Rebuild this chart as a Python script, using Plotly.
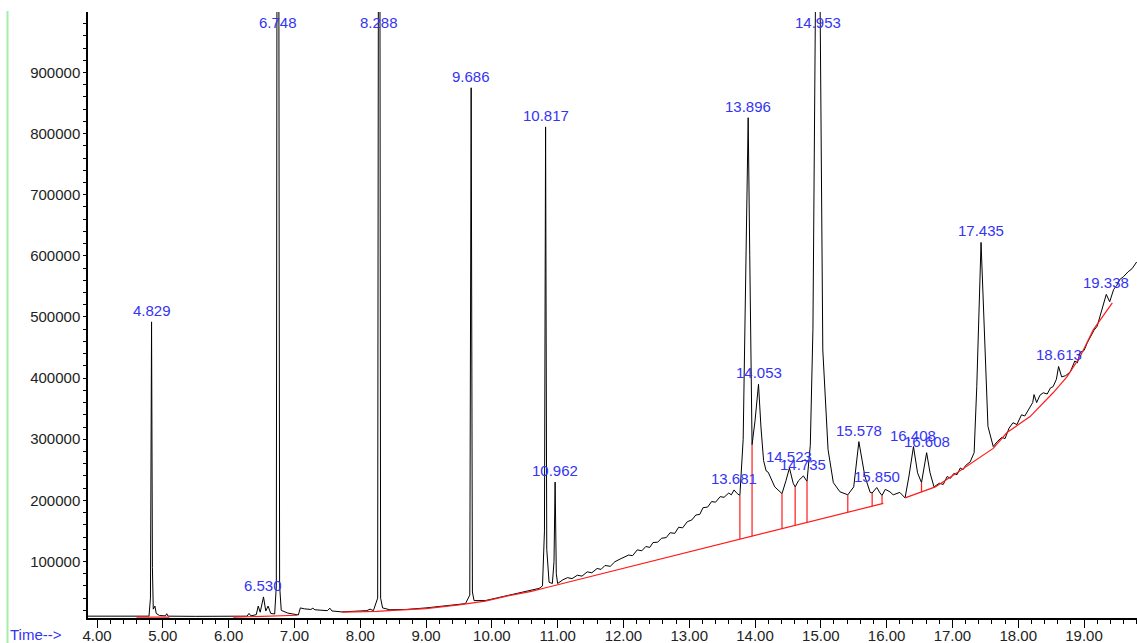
import numpy as np
import plotly.graph_objects as go

# Total ion chromatogram: retention time (min) vs. abundance
trace_t = [
    3.86, 4.20, 4.50, 4.79, 4.812, 4.829, 4.842, 4.855, 4.88, 4.90,
    4.95, 5.04, 5.06, 5.08, 5.50, 6.00, 6.28, 6.31, 6.34, 6.42,
    6.45, 6.48, 6.53, 6.565, 6.60, 6.64, 6.70, 6.725, 6.748, 6.775,
    6.80, 6.90, 7.00, 7.06, 7.09, 7.15, 7.25, 7.28, 7.31, 7.50,
    7.54, 7.57, 7.72, 7.90, 8.10, 8.15, 8.20, 8.265, 8.288, 8.31,
    8.34, 8.45, 8.70, 9.00, 9.30, 9.60, 9.665, 9.686, 9.705, 9.73,
    9.90, 10.20, 10.50, 10.72, 10.77, 10.785, 10.80, 10.817, 10.835, 10.87,
    10.92, 10.945, 10.962, 10.98, 11.00, 11.08, 11.15, 11.22, 11.30, 11.37,
    11.45, 11.52, 11.60, 11.66, 11.72, 11.80, 11.87, 11.95, 12.02, 12.08,
    12.14, 12.21, 12.28, 12.34, 12.40, 12.45, 12.52, 12.58, 12.65, 12.71,
    12.78, 12.84, 12.90, 12.97, 13.04, 13.10, 13.16, 13.21, 13.28, 13.34,
    13.40, 13.47, 13.53, 13.60, 13.64, 13.681, 13.73, 13.77, 13.82, 13.87,
    13.896, 13.92, 13.955, 14.00, 14.053, 14.09, 14.13, 14.17, 14.20, 14.30,
    14.41, 14.47, 14.523, 14.58, 14.61, 14.66, 14.735, 14.79, 14.84, 14.88,
    14.92, 14.953, 14.99, 15.03, 15.11, 15.19, 15.29, 15.41, 15.50, 15.578,
    15.67, 15.75, 15.78, 15.85, 15.90, 15.93, 15.98, 16.05, 16.10, 16.20,
    16.28, 16.34, 16.408, 16.47, 16.53, 16.608, 16.66, 16.72, 16.80, 16.86,
    16.92, 16.97, 17.02, 17.07, 17.12, 17.16, 17.20, 17.27, 17.33, 17.37,
    17.435, 17.51, 17.54, 17.62, 17.68, 17.75, 17.80, 17.86, 17.92, 17.98,
    18.05, 18.10, 18.18, 18.22, 18.24, 18.28, 18.33, 18.38, 18.44, 18.49,
    18.53, 18.58, 18.613, 18.66, 18.72, 18.79, 18.86, 18.90, 18.94, 19.00,
    19.05, 19.09, 19.15, 19.20, 19.24, 19.30, 19.338, 19.39, 19.45, 19.50,
    19.54, 19.60, 19.67, 19.73, 19.80,
]
trace_abund = [
    10500, 10300, 10200, 10500, 40000, 492000, 90000, 22000, 27000, 15000,
    11500, 11000, 14500, 10500, 10200, 10200, 10500, 15000, 11000, 13000,
    27000, 17000, 42000, 19000, 27000, 15000, 14000, 60000, 2400000, 60000,
    20000, 15500, 13500, 12500, 24000, 22500, 21500, 23500, 21000, 19500,
    23500, 19000, 17500, 18000, 19500, 22000, 19500, 40000, 2200000, 40000,
    24000, 21000, 21500, 24000, 27000, 31000, 45000, 875000, 50000, 36000,
    36000, 43000, 50000, 56000, 60000, 112000, 150000, 811000, 120000, 66000,
    64000, 100000, 230000, 80000, 64000, 70000, 73500, 72000, 77500, 76000,
    83000, 81500, 88500, 87000, 93500, 92000, 99500, 104000, 107000, 110500,
    109500, 119000, 117500, 124500, 123000, 131000, 131500, 138000, 139000, 147000,
    146000, 156000, 155000, 165000, 168000, 176000, 177000, 188000, 189000, 198000,
    197000, 206000, 205000, 212000, 209000, 217000, 211000, 208000, 300000, 650000,
    826000, 600000, 291000, 330000, 390000, 320000, 265000, 248000, 246000, 222000,
    211000, 232000, 253000, 228000, 222000, 232000, 240000, 231000, 290000, 480000,
    1000000, 1500000, 1000000, 446000, 283000, 229000, 214000, 209000, 222000, 296000,
    239000, 213000, 212000, 221000, 212000, 208000, 218000, 214000, 209000, 213000,
    204000, 240000, 288000, 245000, 229000, 278000, 245000, 222000, 228000, 226000,
    239000, 236000, 244000, 242000, 253000, 250000, 257000, 263000, 278000, 386000,
    622000, 386000, 321000, 288000, 296000, 303000, 301000, 318000, 327000, 324000,
    340000, 338000, 353000, 360000, 373000, 360000, 372000, 376000, 374000, 384000,
    386000, 398000, 419000, 402000, 404000, 410000, 428000, 425000, 442000, 445000,
    458000, 466000, 478000, 485000, 501000, 525000, 537000, 525000, 545000, 552000,
    561000, 566000, 574000, 579000, 590000,
]

# Integrated peaks (retention times printed above each apex)
peak_rt = [4.829, 6.530, 6.748, 8.288, 9.686, 10.817, 10.962, 13.681, 13.896, 14.053,
           14.523, 14.735, 14.953, 15.578, 15.850, 16.408, 16.608, 17.435, 18.613, 19.338]

# Integration baselines (red)
base1_t = [4.60, 5.10]
base1_v = [8800, 8800]
base2_t = [6.07, 7.04]
base2_v = [8800, 12000]
base3_t = [7.72, 8.00, 8.25, 8.50, 9.00, 9.50, 9.90, 10.30, 10.60, 10.82, 15.95]
base3_v = [17000, 17500, 18500, 20000, 23000, 29000, 35000, 45000, 51000, 57000, 195000]
base4_t = [16.28, 16.74, 17.07, 17.31, 17.62, 17.83, 18.18, 18.53, 18.74, 18.94, 19.14, 19.43]
base4_v = [204000, 222000, 245000, 263000, 285000, 311000, 337000, 376000, 402000, 435000, 479000, 523000]

# Peak-split drop lines
drop3_t = [13.77, 13.955, 14.41, 14.61, 14.79, 15.41, 15.78, 15.93]
drop4_t = [16.53]

x_range = [3.863, 19.805]
y_range = [7500, 999000]

fig = go.Figure()

fig.add_trace(go.Scatter(x=trace_t, y=trace_abund, mode="lines",
                         line=dict(color="black", width=1), hoverinfo="skip"))

for bt, bv in [(base1_t, base1_v), (base2_t, base2_v), (base3_t, base3_v), (base4_t, base4_v)]:
    fig.add_trace(go.Scatter(x=bt, y=bv, mode="lines",
                             line=dict(color="#ff1a1a", width=1.2), hoverinfo="skip"))

drop_x, drop_y = [], []
for times, bt, bv in [(drop3_t, base3_t, base3_v), (drop4_t, base4_t, base4_v)]:
    for t in times:
        top = float(np.interp(t, trace_t, trace_abund))
        bottom = float(np.interp(t, bt, bv))
        drop_x += [t, t, None]
        drop_y += [bottom, top, None]
fig.add_trace(go.Scatter(x=drop_x, y=drop_y, mode="lines",
                         line=dict(color="#ff1a1a", width=1.2), hoverinfo="skip"))

label_font = dict(family="Liberation Sans, Arial, sans-serif", size=15, color="#3434f4")
for rt in peak_rt:
    apex = float(np.interp(rt, trace_t, trace_abund))
    if apex >= y_range[1]:
        fig.add_annotation(x=rt, y=1, yref="paper", yanchor="top", text=f"{rt:.3f}",
                           showarrow=False, font=label_font)
    else:
        fig.add_annotation(x=rt, y=apex, yanchor="bottom", yshift=1, text=f"{rt:.3f}",
                           showarrow=False, font=label_font)

fig.add_annotation(x=(8 - 88) / 1049, y=(618 - 634) / 606, xref="paper", yref="paper",
                   xanchor="left", yanchor="middle", text="Time-->", showarrow=False,
                   font=dict(family="Liberation Sans, Arial, sans-serif", size=15, color="#3434f4"))

# light green frame edge on the left
fig.add_shape(type="line", xref="paper", yref="paper",
              x0=(7.5 - 88) / 1049, x1=(7.5 - 88) / 1049,
              y0=(618 - 11) / 606, y1=(618 - 645) / 606,
              line=dict(color="#a6eea6", width=2))

tick_font = dict(family="Liberation Sans, Arial, sans-serif", size=15, color="#222222")
fig.update_xaxes(range=x_range, tick0=0, dtick=1, tickformat=".2f", ticks="outside",
                 ticklen=8, tickwidth=1, tickcolor="black", showline=True, linecolor="black",
                 linewidth=1.5, showgrid=False, zeroline=False, tickfont=tick_font,
                 automargin=False, ticklabelstandoff=-5,
                 minor=dict(dtick=0.2, tick0=0, ticks="outside", ticklen=4, tickcolor="black"))
fig.update_yaxes(range=y_range, tick0=0, dtick=100000, tickformat="d", ticks="outside",
                 ticklen=3, tickwidth=1, tickcolor="black", showline=True, linecolor="black",
                 linewidth=1.5, showgrid=False, zeroline=False, tickfont=tick_font,
                 automargin=False,
                 minor=dict(dtick=20000, tick0=0, ticks="outside", ticklen=3, tickcolor="black"))

fig.update_layout(width=1137, height=643, showlegend=False,
                  margin=dict(l=88, r=0, t=12, b=25),
                  plot_bgcolor="white", paper_bgcolor="white")

fig.write_html("out.html")
